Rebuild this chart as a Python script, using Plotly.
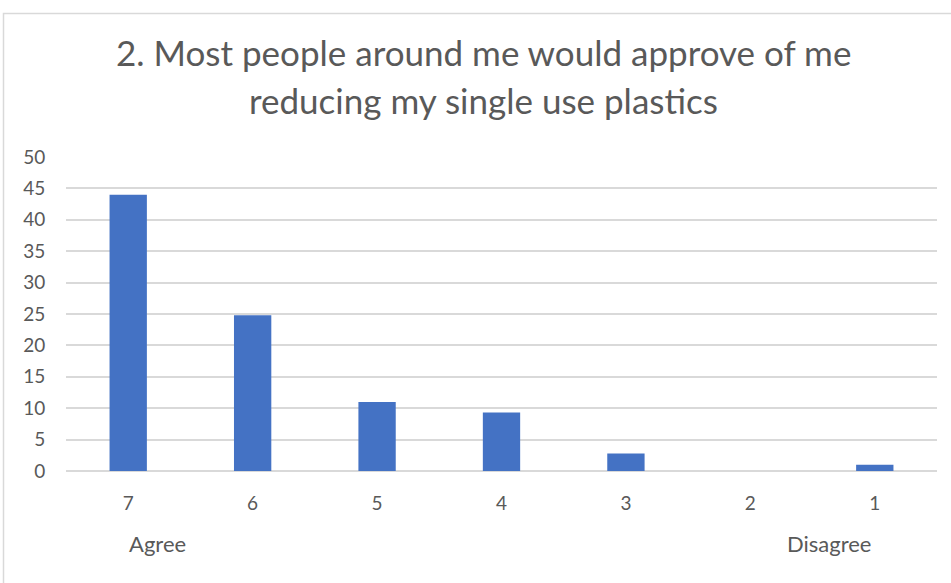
import plotly.graph_objects as go

categories = ["7", "6", "5", "4", "3", "2", "1"]
values = [44, 24.8, 11, 9.3, 2.8, 0, 1]
y_ticks = [0, 5, 10, 15, 20, 25, 30, 35, 40, 45, 50]
title_lines = ["2. Most people around me would approve of me", "reducing my single use plastics"]
end_labels = ["Agree", "Disagree"]

FONT = "Lato"
GREY = "#595959"
X0, X1, YTOP, YBOT = 66, 937, 157, 471
W, H = X1 - X0, YBOT - YTOP


def px(x):
    return (x - X0) / W


def py(y):
    return (YBOT - y) / H


fig = go.Figure(go.Bar(x=categories, y=values, marker=dict(color="#4472C4", line=dict(width=0))))

fig.update_layout(
    width=951, height=583,
    margin=dict(l=X0, r=951 - X1, t=YTOP, b=583 - YBOT),
    paper_bgcolor="white", plot_bgcolor="white",
    bargap=0.7,
    showlegend=False,
    font=dict(family=FONT, color=GREY),
)
fig.update_xaxes(type="category", showgrid=False, showline=False, zeroline=False,
                 tickfont=dict(size=19, color=GREY), ticks="outside", ticklen=15, tickcolor="rgba(0,0,0,0)")
fig.update_yaxes(range=[0, 50], tickvals=y_ticks, showgrid=True, gridcolor="#d9d9d9", gridwidth=1.5,
                 zeroline=True, zerolinecolor="#d9d9d9", zerolinewidth=1.5, showline=False,
                 tickfont=dict(size=19, color=GREY), ticks="outside", ticklen=16, tickcolor="rgba(0,0,0,0)")

for text, ycen in zip(title_lines, [52, 100]):
    fig.add_annotation(text=text, xref="paper", yref="paper", x=px(483.5), y=py(ycen),
                       showarrow=False, xanchor="center", yanchor="middle",
                       font=dict(family=FONT, size=35, color=GREY))

for text, xcen in zip(end_labels, [157.5, 829]):
    fig.add_annotation(text=text, xref="paper", yref="paper", x=px(xcen), y=py(543),
                       showarrow=False, xanchor="center", yanchor="middle", font=dict(size=22, color=GREY))

fig.add_shape(type="rect", xref="paper", yref="paper", x0=px(3.5), x1=1.2,
              y0=-0.6, y1=py(13.5), line=dict(color="#d9d9d9", width=1.5), layer="below")

fig.write_html("out.html")
